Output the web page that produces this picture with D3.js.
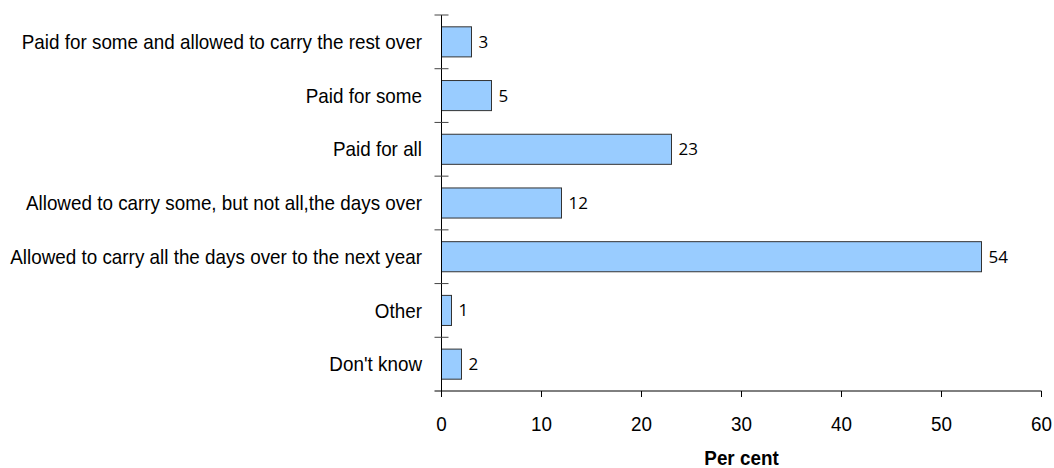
<!DOCTYPE html>
<html><head><meta charset="utf-8">
<script src="https://cdn.jsdelivr.net/npm/d3@7"></script>
<style>body{margin:0;background:#fff}svg{display:block}</style>
</head><body><svg id="c" width="1054" height="468"></svg>
<script>
const categories = ["Paid for some and allowed to carry the rest over","Paid for some","Paid for all","Allowed to carry some, but not all,the days over","Allowed to carry all the days over to the next year","Other","Don't know"];
const values = [3,5,23,12,54,1,2];
const xTicks = [0,10,20,30,40,50,60];
const xTitle = "Per cent";

const FONT = "'Liberation Sans', Arial, sans-serif";
const FS = 20.5, K = 0.92;
const svg = d3.select("#c");
const L = 441.5, R = 1041.5, T = 15, B = 391;
const x = d3.scaleLinear().domain([0,60]).range([L,R]);
const y = d3.scaleBand().domain(categories).range([T,B]).paddingInner(0.44).paddingOuter(0.22);

svg.selectAll("rect.bar").data(values).enter().append("rect")
  .attr("x", x(0)).attr("y",(d,i)=>y(categories[i]))
  .attr("width", d=>x(d)-x(0)).attr("height", y.bandwidth())
  .attr("fill","#99CCFF").attr("stroke","#333333").attr("stroke-width",1);

svg.selectAll("text.val").data(values).enter().append("text")
  .attr("x", d=>x(d)+7).attr("y",(d,i)=>y(categories[i])+y.bandwidth()/2)
  .attr("dy","0.35em").attr("font-family","'Open Sans', sans-serif").attr("font-size",17)
  .attr("fill","#000").text(d=>d);

svg.append("line").attr("x1",L).attr("x2",L).attr("y1",T).attr("y2",B).attr("stroke","#000");
const step = (B-T)/categories.length;
d3.range(categories.length).forEach(i=>{
  const yy = T + i*step;
  svg.append("line").attr("x1",L-7).attr("x2",L+7).attr("y1",yy).attr("y2",yy).attr("stroke","#444");
});
svg.selectAll("text.cat").data(categories).enter().append("text")
  .attr("transform", d=>`translate(422,${y(d)+y.bandwidth()/2}) scale(${K},1)`)
  .attr("dy","0.35em")
  .attr("text-anchor","end").attr("font-family",FONT)
  .attr("font-size",FS).attr("fill","#000").text(d=>d);

svg.append("line").attr("x1",L-7).attr("x2",R).attr("y1",B).attr("y2",B).attr("stroke","#000");
const gx = svg.append("g");
gx.selectAll("line").data(xTicks).enter().append("line")
  .attr("x1",d=>x(d)).attr("x2",d=>x(d)).attr("y1",B).attr("y2",B+6).attr("stroke","#000");
gx.selectAll("text").data(xTicks).enter().append("text")
  .attr("transform", d=>`translate(${x(d)},${B+33}) scale(${K},1)`)
  .attr("dy","0.35em").attr("text-anchor","middle")
  .attr("font-family",FONT).attr("font-size",FS).text(d=>d);

svg.append("text").attr("transform",`translate(${(L+R)/2},458) scale(${K},1)`)
  .attr("dy","0.35em").attr("text-anchor","middle")
  .attr("font-family",FONT).attr("font-size",FS).attr("font-weight","bold").text(xTitle);
</script></body></html>
